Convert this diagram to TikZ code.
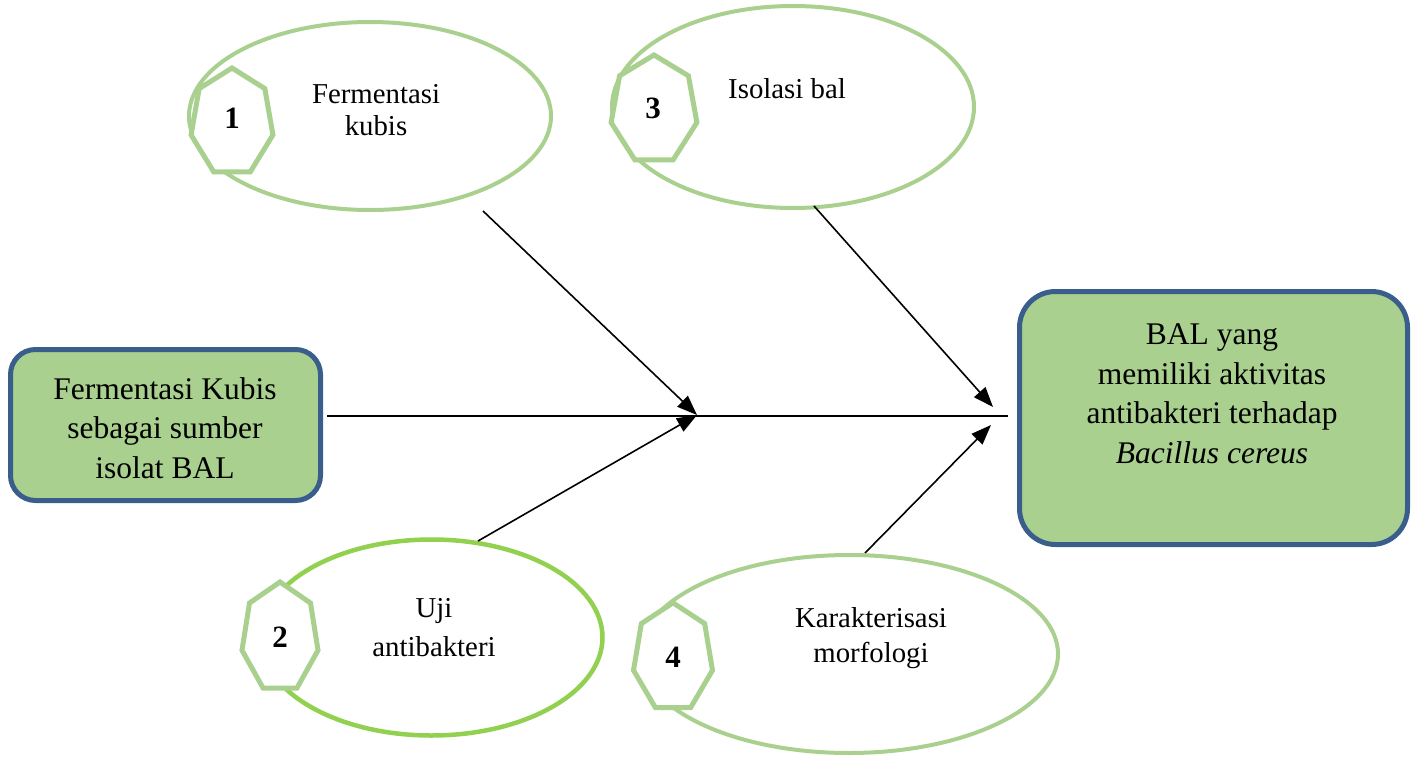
\documentclass[tikz,border=0pt]{standalone}
\usepackage{fontspec}
\setmainfont{Liberation Serif}
\usetikzlibrary{shapes.geometric,arrows.meta}
\definecolor{lg}{HTML}{A9D08E}
\definecolor{bg}{HTML}{92D050}
\definecolor{db}{HTML}{3A5E8C}
\newcommand\heptashape[4]{\draw[hep] (#1,#2) +(-90:#3 and #4) \foreach \k in {1,...,6}{ -- +({-90+\k*360/7}:#3 and #4)} -- cycle;}
\begin{document}
\begin{tikzpicture}[x=1pt,y=-1pt,
 oval/.style={ellipse,draw=lg,line width=4pt,inner sep=0pt},
 hep/.style={draw=lg,line width=5pt,fill=white,line join=miter},
 box/.style={draw=db,fill=lg,line width=5pt,rounded corners=25pt,inner sep=0pt},
 lab/.style={align=center,anchor=base,inner sep=0pt,font=\fontsize{28.8}{32}\selectfont},
 boxlab/.style={align=center,anchor=base,inner sep=0pt,font=\fontsize{31.5}{39.5}\selectfont},
 num/.style={font=\fontsize{31}{36}\selectfont\bfseries,inner sep=0pt},
 arr/.style={line width=1.6pt,-{Triangle[length=20pt,width=15pt]}}]
\useasboundingbox (0,0) rectangle (1416,763);
% ellipses
\node[oval,minimum width=362pt,minimum height=188pt] (e1) at (370,116) {};
\node[oval,minimum width=362pt,minimum height=202pt] (e3) at (793,107) {};
\node[oval,draw=bg,line width=4.5pt,minimum width=342pt,minimum height=196pt] (e2) at (431.5,637.5) {};
\node[oval,minimum width=418pt,minimum height=198pt] (e4) at (849,654) {};
% heptagons
\heptashape{232}{122.7}{42}{54.7}
\heptashape{654}{110.2}{44}{55.2}
\heptashape{280}{637.8}{39}{55.8}
\heptashape{673}{658}{40.5}{55.2}
\node[num] (n1) at (232,118) {1};
\node[num] (n3) at (653,108) {3};
\node[num] (n2) at (280,637) {2};
\node[num] (n4) at (673,657) {4};
% ellipse labels
\node[lab] (l1) at (376,135) {Fermentasi\\kubis};
\node[lab] (l3) at (787,98) {Isolasi bal};
\node[lab,font=\fontsize{28.8}{39}\selectfont] (l2) at (434,656) {Uji\\antibakteri};
\node[lab,font=\fontsize{28.8}{35}\selectfont] (l4) at (871,662) {Karakterisasi\\morfologi};
% boxes
\node[box,minimum width=310pt,minimum height=151pt] (src) at (165.5,425) {};
\node[box,rounded corners=36pt,minimum width=388pt,minimum height=253pt] (res) at (1213.5,418) {};
\node[boxlab] (srcl) at (165,478) {Fermentasi Kubis\\sebagai sumber\\isolat BAL};
\node[boxlab] (resl) at (1212,463) {BAL yang\\memiliki aktivitas\\antibakteri terhadap\\\textit{Bacillus cereus}};
% connectors
\coordinate (j1) at (697,415);
\coordinate (s1) at (483,211);
\coordinate (s2) at (478,541);
\coordinate (s3) at (814,206);
\coordinate (t3) at (993,407);
\coordinate (s4) at (865,553);
\coordinate (t4) at (991,425);
\draw[line width=2.8pt,shorten <=4pt,shorten >=9pt] (src.east |- 0,416) -- (res.west |- 0,416);
\draw[arr] (s1) -- (j1);
\draw[arr] (s2) -- (j1);
\draw[arr] (s3) -- (t3);
\draw[arr] (s4) -- (t4);
\end{tikzpicture}
\end{document}
